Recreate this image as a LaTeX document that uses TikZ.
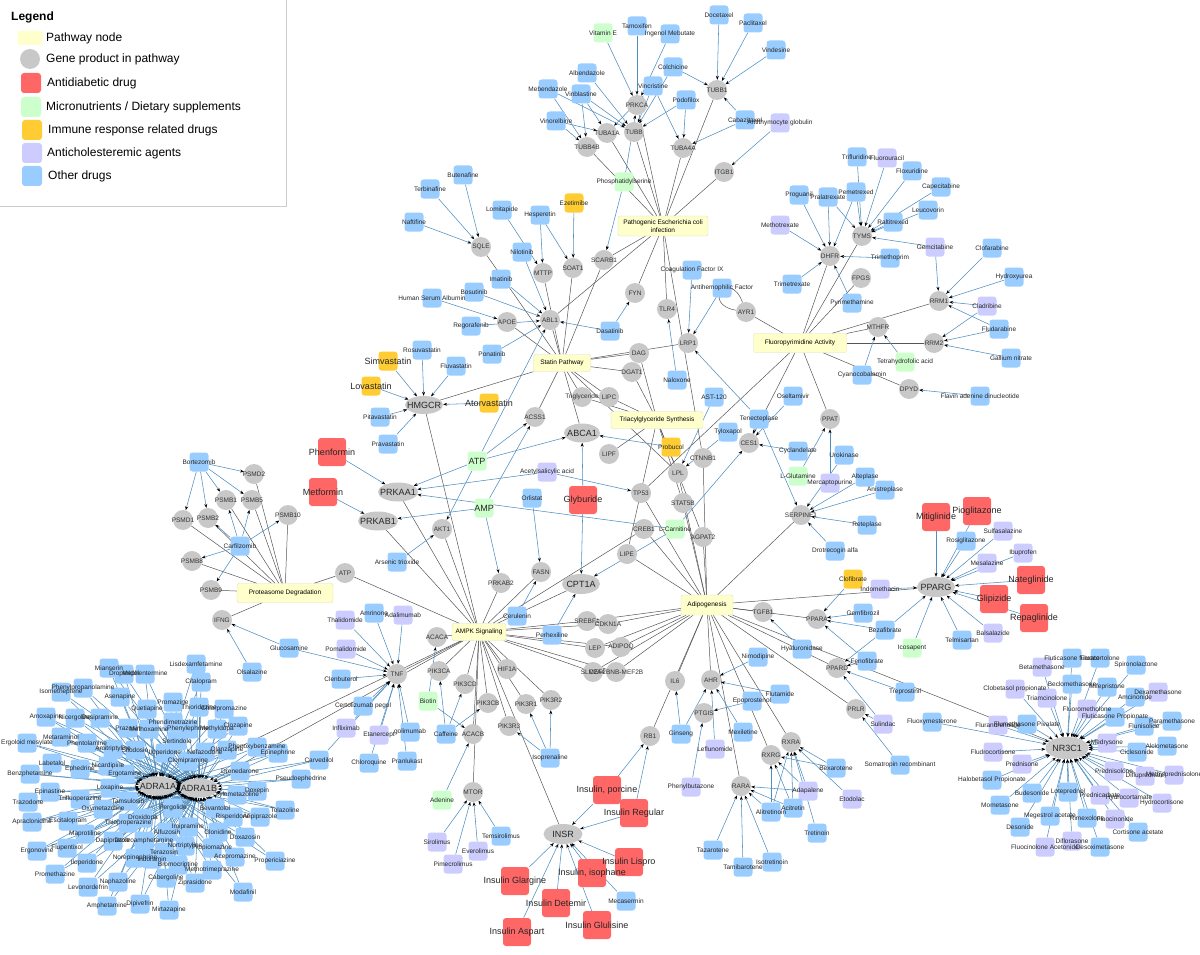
\documentclass[tikz,border=0pt]{standalone}
\usepackage{fontspec}
\setmainfont{Liberation Sans}
\usetikzlibrary{shapes.geometric,arrows.meta}
\pgfdeclarelayer{bg}\pgfdeclarelayer{fg}\pgfsetlayers{bg,main,fg}
\definecolor{cblue}{HTML}{99CCFF}
\definecolor{cgreen}{HTML}{CCFFCC}
\definecolor{cred}{HTML}{FF6666}
\definecolor{corange}{HTML}{FFCC33}
\definecolor{cpurple}{HTML}{CCCCFF}
\definecolor{cyellow}{HTML}{FFFFCC}
\definecolor{cgene}{HTML}{C8C8C8}
\definecolor{eblue}{HTML}{4F8FC0}
\definecolor{egray}{HTML}{555555}
\tikzset{
 gene/.style={circle,fill=cgene,inner sep=0,minimum size=20pt},
 gell/.style={ellipse,fill=cgene,inner sep=0},
 glab/.style={inner sep=0,font=\fontsize{6.5}{7}\selectfont,text=black!80},
 elab/.style={inner sep=0,font=\fontsize{9}{10}\selectfont,text=black!85},
 pway/.style={rectangle,rounded corners=2pt,fill=cyellow,draw=cyellow!75!gray,line width=0.4pt,font=\fontsize{6.5}{7.5}\selectfont,inner sep=0,align=center},
 dbox/.style={rectangle,rounded corners=3pt,minimum size=19pt,inner sep=0},
 dlab/.style={inner sep=0,text=black!85},
 dedge/.style={draw=eblue,line width=0.55pt,-{Stealth[length=4pt,width=3pt,color=black]}},
 pedge/.style={draw=egray,line width=0.5pt},
 legtxt/.style={anchor=west,font=\fontsize{12}{12}\selectfont,inner sep=0},
}
\makeatletter
\newcommand\myedges{}
\newcommand\mylabels{}
\newcommand\gen[3]{\node[gene] (#1) at (#2) {};\g@addto@macro\mylabels{\node[glab] at (#1) {#3};}}
\newcommand\gel[5]{\node[gell,minimum width=#4pt,minimum height=#5pt] (#1) at (#2) {};\g@addto@macro\mylabels{\node[elab] at (#1) {#3};}}
\newcommand\drgX[7]{%
 \node[dbox,fill=#3,minimum size=#6pt] (#1) at (#2) {};%
 \g@addto@macro\mylabels{\node[dlab,font=\fontsize{#7}{#7}\selectfont] at (#1) {#4};}%
 \foreach \tg in {#5}{\xdef\myedges{\unexpanded\expandafter{\myedges}\noexpand\draw[dedge] (#1) -- (\tg);}}}
\newcommand\pwl[2]{\foreach \tg in {#2}{\xdef\myedges{\unexpanded\expandafter{\myedges}\noexpand\draw[pedge] (#1) -- (\tg);}}}
\makeatother
\newcommand\drg[5]{\drgX{#1}{#2}{#3}{#4}{#5}{19}{6.5}}
\newcommand\drgB[5]{\drgX{#1}{#2}{#3}{#4}{#5}{28}{9}}
\newcommand\drgM[5]{\drgX{#1}{#2}{#3}{#4}{#5}{19}{9}}
\newcommand\adr[3]{\drg{#1}{#2}{cblue}{#3}{adra1a,adra1b}}
\newcommand\nrd[4]{\drg{#1}{#2}{#3}{#4}{nr3c1}}
\begin{document}
\begin{tikzpicture}[x=1pt,y=-1pt]
\useasboundingbox (0,0) rectangle (1200,955);
% ---------------- Legend
\draw[draw=black!20,fill=white] (-2,-2) rectangle (286,206);
\node[anchor=west,inner sep=0,font=\bfseries\fontsize{12}{12}\selectfont] (legt) at (11,17) {Legend};
\node[fill=cyellow,rounded corners=2pt,minimum width=25pt,minimum height=14pt,inner sep=0] (lg1) at (30,38) {};
\node[circle,fill=cgene,minimum size=20pt,inner sep=0] (lg2) at (30,59) {};
\node[dbox,fill=cred,minimum size=20pt] (lg3) at (31,83) {};
\node[dbox,fill=cgreen,minimum size=20pt] (lg4) at (31,107) {};
\node[dbox,fill=corange,minimum size=20pt] (lg5) at (32,130) {};
\node[dbox,fill=cpurple,minimum size=20pt] (lg6) at (32,153) {};
\node[dbox,fill=cblue,minimum size=20pt] (lg7) at (32,176) {};
\node[legtxt] (lt1) at (46,38) {Pathway node};
\node[legtxt] (lt2) at (46,59) {Gene product in pathway};
\node[legtxt] (lt3) at (47,83) {Antidiabetic drug};
\node[legtxt] (lt4) at (46,107) {Micronutrients / Dietary supplements};
\node[legtxt] (lt5) at (48,130) {Immune response related drugs};
\node[legtxt] (lt6) at (47,153) {Anticholesteremic agents};
\node[legtxt] (lt7) at (48,176) {Other drugs};
% ---------------- Pathways
\node[pway,minimum width=90pt,minimum height=20pt] (pec) at (663,226) {Pathogenic Escherichia coli\\infection};
\node[pway,minimum width=57pt,minimum height=17pt] (stat) at (562,363) {Statin Pathway};
\node[pway,minimum width=92pt,minimum height=17pt] (tag) at (657,420) {Triacylglyceride Synthesis};
\node[pway,minimum width=93pt,minimum height=19pt] (fpa) at (800,343) {Fluoropyrimidine Activity};
\node[pway,minimum width=52pt,minimum height=20pt] (adi) at (707,605) {Adipogenesis};
\node[pway,minimum width=54pt,minimum height=17pt] (ampk) at (479,632) {AMPK Signaling};
\node[pway,minimum width=96pt,minimum height=19pt] (prot) at (285,593) {Proteasome Degradation};
% ---------------- Genes
\gen{tubb4b}{587,147}{TUBB4B}
\gen{tuba1a}{607,133}{TUBA1A}
\gen{tubb}{634,132}{TUBB}
\gen{prkca}{637,105}{PRKCA}
\gen{tuba4a}{683,148}{TUBA4A}
\gen{tubb1}{717,90}{TUBB1}
\gen{itgb1}{724,172}{ITGB1}
\gen{sqle}{481,247}{SQLE}
\gen{mttp}{543,273}{MTTP}
\gen{soat1}{573,268}{SOAT1}
\gen{scarb1}{604,260}{SCARB1}
\gen{abl1}{550,320}{ABL1}
\gen{apoe}{507,322}{APOE}
\gen{fyn}{635,293}{FYN}
\gen{tlr4}{667,309}{TLR4}
\gen{ayr1}{746,312}{AYR1}
\gen{lrp1}{688,343}{LRP1}
\gen{dag}{639,353}{DAG}
\gen{dgat1}{632,372}{DGAT1}
\gen{trig}{582,397}{Triglyceride}
\gen{lipc}{609,397}{LIPC}
\gen{acss1}{535,417}{ACSS1}
\gen{lipf}{609,454}{LIPF}
\gen{ctnnb1}{703,458}{CTNNB1}
\gen{lpl}{678,473}{LPL}
\gen{tp53}{641,493}{TP53}
\gen{stat5b}{683,503}{STAT5B}
\gen{creb1}{644,529}{CREB1}
\gen{agpat2}{703,537}{AGPAT2}
\gen{lipe}{627,554}{LIPE}
\gen{ces1}{749,443}{CES1}
\gen{ppat}{830,419}{PPAT}
\gen{serpine1}{801,515}{SERPINE1}
\gen{dhfr}{830,256}{DHFR}
\gen{tyms}{862,236}{TYMS}
\gen{fpgs}{861,278}{FPGS}
\gen{mthfr}{878,327}{MTHFR}
\gen{rrm1}{939,301}{RRM1}
\gen{rrm2}{934,343}{RRM2}
\gen{dpyd}{909,389}{DPYD}
\gen{psmd2}{254,474}{PSMD2}
\gen{psmb1}{226,500}{PSMB1}
\gen{psmb5}{252,500}{PSMB5}
\gen{psmd1}{183,520}{PSMD1}
\gen{psmb2}{208,518}{PSMB2}
\gen{psmb10}{288,515}{PSMB10}
\gen{psmb8}{192,561}{PSMB8}
\gen{psmb9}{211,590}{PSMB9}
\gen{ifng}{222,620}{IFNG}
\gen{atpg}{345,573}{ATP}
\gen{akt1}{442,529}{AKT1}
\gen{fasn}{541,572}{FASN}
\gen{prkab2}{501,583}{PRKAB2}
\gen{srebf1}{587,621}{SREBF1}
\gen{acaca}{437,637}{ACACA}
\gen{tnf}{397,674}{TNF}
\gen{pik3ca}{439,671}{PIK3CA}
\gen{hif1a}{507,669}{HIF1A}
\gen{lep}{595,648}{LEP}
\gen{slc2a4}{593,672}{SLC2A4}
\gen{pik3cd}{465,684}{PIK3CD}
\gen{pik3cb}{488,703}{PIK3CB}
\gen{pik3r1}{526,704}{PIK3R1}
\gen{pik3r2}{551,700}{PIK3R2}
\gen{acacb}{473,734}{ACACB}
\gen{pik3r3}{509,726}{PIK3R3}
\gen{mtor}{473,792}{MTOR}
\gen{cdkn1a}{608,624}{CDKN1A}
\gen{adipoq}{621,647}{ADIPOQ}
\gen{mef2b}{616,672}{MEF2BNB-MEF2B}
\gen{tgfb1}{763,612}{TGFB1}
\gen{ppara}{817,619}{PPARA}
\gen{il6}{675,681}{IL6}
\gen{ahr}{711,680}{AHR}
\gen{ppard}{837,668}{PPARD}
\gen{ptgis}{704,713}{PTGIS}
\gen{prlr}{856,709}{PRLR}
\gen{rb1}{650,736}{RB1}
\gen{rxra}{791,742}{RXRA}
\gen{rxrg}{771,755}{RXRG}
\gen{rara}{741,786}{RARA}
\gel{hmgcr}{424,405}{HMGCR}{38}{18}
\gel{abca1}{582,433}{ABCA1}{36}{19}
\gel{prkaa1}{398,492}{PRKAA1}{40}{19}
\gel{prkab1}{378,521}{PRKAB1}{40}{19}
\gel{cpt1a}{581,584}{CPT1A}{38}{20}
\gel{insr}{563,834}{INSR}{39}{20}
\gel{pparg}{936,587}{PPARG}{38}{20}
\gel{nr3c1}{1067,748}{NR3C1}{43}{22}
\gel{adra1a}{158,786}{ADRA1A}{38}{19}
\gel{adra1b}{199,788}{ADRA1B}{38}{19}
% ---------------- Pathway links
\pwl{pec}{tubb4b,tuba1a,tubb,prkca,tuba4a,tubb1,itgb1,scarb1,fyn,tlr4,abl1,ctnnb1}
\pwl{stat}{hmgcr,apoe,abl1,mttp,soat1,scarb1,sqle,acss1,abca1,trig,lipc,dag,lrp1,lpl,dgat1}
\pwl{tag}{dag,dgat1,lipc,trig,lipf,lpl,agpat2,lipe,stat5b}
\pwl{fpa}{dhfr,tyms,fpgs,mthfr,rrm1,rrm2,dpyd,ppat,ces1,tp53,ayr1}
\pwl{adi}{ctnnb1,lpl,stat5b,agpat2,creb1,lipe,serpine1,tgfb1,ppara,pparg,ppard,prlr,rxra,rxrg,rara,ahr,il6,rb1,cdkn1a,srebf1,lep,adipoq,mef2b,slc2a4,nr3c1,tp53}
\pwl{ampk}{prkaa1,prkab1,prkab2,akt1,hmgcr,acaca,acacb,pik3ca,pik3cd,pik3cb,pik3r1,pik3r2,pik3r3,hif1a,mtor,tnf,fasn,cpt1a,srebf1,lep,adipoq,slc2a4,mef2b,cdkn1a,atpg,insr,adra1a,adra1b,creb1}
\pwl{prot}{psmd2,psmb1,psmb5,psmd1,psmb2,psmb10,psmb8,psmb9,atpg,ifng}
% ---------------- Drugs: top
\drg{vite}{603,33}{cgreen}{Vitamin E}{prkca}
\drg{tamox}{637,26}{cblue}{Tamoxifen}{prkca}
\drg{ingen}{670,34}{cblue}{Ingenol Mebutate}{prkca}
\drg{docet}{719,15}{cblue}{Docetaxel}{tubb1}
\drg{pacli}{753,23}{cblue}{Paclitaxel}{tubb1}
\drg{vindes}{776,50}{cblue}{Vindesine}{tubb1}
\drg{colch}{673,67}{cblue}{Colchicine}{tubb,tubb1}
\drg{vincr}{653,86}{cblue}{Vincristine}{tubb,tuba4a,tuba1a}
\drg{podof}{686,100}{cblue}{Podofilox}{tubb,tuba4a}
\drg{albend}{587,73}{cblue}{Albendazole}{tubb}
\drg{mebend}{548,89}{cblue}{Mebendazole}{tubb4b,tubb}
\drg{vinbl}{581,94}{cblue}{Vinblastine}{tubb4b,tuba1a,tubb}
\drg{vinor}{556,121}{cblue}{Vinorelbine}{tuba1a,tubb4b}
\drg{cabaz}{745,120}{cblue}{Cabazitaxel}{tubb1,tuba4a}
\drg{atg}{780,123}{cpurple}{Antithymocyte globulin}{itgb1}
\drg{phser}{624,182}{cgreen}{Phosphatidylserine}{prkca,scarb1}
\drg{buten}{463,175}{cblue}{Butenafine}{sqle}
\drg{terb}{430,189}{cblue}{Terbinafine}{sqle}
\drg{naft}{414,222}{cblue}{Naftifine}{sqle}
\drg{lomit}{502,210}{cblue}{Lomitapide}{mttp}
\drg{hesp}{540,215}{cblue}{Hesperetin}{mttp,soat1}
\drg{ezet}{574,203}{corange}{Ezetimibe}{soat1}
\drg{nilo}{522,252}{cblue}{Nilotinib}{abl1}
\drg{imat}{501,279}{cblue}{Imatinib}{abl1}
\drg{bosu}{474,292}{cblue}{Bosutinib}{abl1}
\drg{hsa}{432,298}{cblue}{Human Serum Albumin}{apoe}
\drg{regor}{471,326}{cblue}{Regorafenib}{abl1}
\drg{pona}{492,354}{cblue}{Ponatinib}{abl1}
\drg{dasa}{610,331}{cblue}{Dasatinib}{abl1,fyn}
\drg{cf9}{692,270}{cblue}{Coagulation Factor IX}{lrp1}
\drg{ahf}{722,288}{cblue}{Antihemophilic Factor}{lrp1}
% fluoropyrimidine
\drg{trifl}{857,157}{cblue}{Trifluridine}{tyms}
\drg{fu}{887,158}{cpurple}{Fluorouracil}{tyms}
\drg{floxu}{912,171}{cblue}{Floxuridine}{tyms}
\drg{capec}{941,187}{cblue}{Capecitabine}{tyms}
\drg{leuco}{928,210}{cblue}{Leucovorin}{tyms}
\drg{progu}{799,195}{cblue}{Proguanil}{dhfr}
\drg{pralat}{828,197}{cblue}{Pralatrexate}{dhfr,tyms}
\drg{pemet}{856,192}{cblue}{Pemetrexed}{tyms,dhfr}
\drg{mtx}{780,225}{cpurple}{Methotrexate}{dhfr}
\drg{raltit}{893,222}{cblue}{Raltitrexed}{tyms}
\drg{trimp}{890,258}{cblue}{Trimethoprim}{dhfr}
\drg{trimx}{792,284}{cblue}{Trimetrexate}{dhfr}
\drg{pyrim}{852,303}{cblue}{Pyrimethamine}{dhfr}
\drg{gemc}{935,247}{cpurple}{Gemcitabine}{rrm1,tyms}
\drg{clofa}{992,248}{cblue}{Clofarabine}{rrm1}
\drg{hydrox}{1014,277}{cblue}{Hydroxyurea}{rrm1}
\drg{cladr}{987,306}{cpurple}{Cladribine}{rrm1,rrm2}
\drg{fluda}{999,329}{cblue}{Fludarabine}{rrm1,rrm2}
\drg{gall}{1011,358}{cblue}{Gallium nitrate}{rrm2}
\drg{fad}{980,396}{cblue}{Flavin adenine dinucleotide}{dpyd}
\drg{cyano}{862,375}{cblue}{Cyanocobalamin}{mthfr}
\drg{thf}{905,362}{cgreen}{Tetrahydrofolic acid}{mthfr}
% statins / AMPK
\drg{rosuv}{422,350}{cblue}{Rosuvastatin}{hmgcr}
\drgM{simv}{388,361}{corange}{Simvastatin}{hmgcr}
\drg{fluv}{456,366}{cblue}{Fluvastatin}{hmgcr}
\drgM{lov}{371,386}{corange}{Lovastatin}{hmgcr}
\drg{pitav}{380,417}{cblue}{Pitavastatin}{hmgcr}
\drg{prav}{388,444}{cblue}{Pravastatin}{hmgcr}
\drgM{atorv}{489,403}{corange}{Atorvastatin}{hmgcr}
\drgB{phenf}{332,452}{cred}{Phenformin}{prkaa1}
\drgB{metf}{323,492}{cred}{Metformin}{prkab1}
\drgM{atp}{477,461}{cgreen}{ATP}{prkaa1,acss1,abca1,abl1,akt1}
\drgM{amp}{484,508}{cgreen}{AMP}{prkab1,acss1,prkab2}
\drg{asa}{547,472}{cpurple}{Acetylsalicylic acid}{prkaa1,tp53}
\drg{orlis}{532,498}{cblue}{Orlistat}{fasn}
\drgB{glyb}{583,500}{cred}{Glyburide}{abca1,cpt1a}
\drg{arsen}{397,562}{cblue}{Arsenic trioxide}{akt1}
\drg{ceru}{517,616}{cblue}{Cerulenin}{fasn}
\drg{perhex}{552,635}{cblue}{Perhexiline}{cpt1a}
\drg{bort}{199,462}{cblue}{Bortezomib}{psmd2,psmb1,psmb5,psmd1,psmb2}
\drg{carf}{240,546}{cblue}{Carfilzomib}{psmb1,psmb5,psmb2,psmb10,psmb8,psmb9}
\drg{glucos}{289,648}{cblue}{Glucosamine}{ifng,tnf}
\drg{olsal}{252,672}{cblue}{Olsalazine}{ifng}
% middle right
\drg{nalox}{677,380}{cblue}{Naloxone}{tlr4}
\drg{ast}{714,397}{cblue}{AST-120}{lpl}
\drg{oselt}{793,396}{cblue}{Oseltamivir}{ces1}
\drg{tenec}{759,419}{cblue}{Tenecteplase}{lrp1,serpine1,ces1}
\drg{tylox}{728,432}{cblue}{Tyloxapol}{lpl}
\drg{probuc}{671,447}{corange}{Probucol}{abca1}
\drg{cyclan}{798,451}{cblue}{Cyclandelate}{ces1}
\drg{urok}{844,455}{cblue}{Urokinase}{serpine1}
\drg{lglut}{798,476}{cgreen}{L-Glutamine}{ppat}
\drg{mercap}{830,483}{cpurple}{Mercaptopurine}{ppat}
\drg{altep}{865,477}{cblue}{Alteplase}{serpine1}
\drg{anist}{885,490}{cblue}{Anistreplase}{serpine1}
\drg{retep}{867,525}{cblue}{Reteplase}{serpine1}
\drg{lcarn}{675,529}{cgreen}{L-Carnitine}{ces1,cpt1a,prkaa1}
\drg{drot}{835,551}{cblue}{Drotrecogin alfa}{serpine1}
\drg{clofib}{853,579}{corange}{Clofibrate}{ppara}
\drg{indom}{880,589}{cpurple}{Indomethacin}{pparg}
\drg{gemfib}{863,613}{cblue}{Gemfibrozil}{ppara}
\drg{bezaf}{885,630}{cblue}{Bezafibrate}{ppara,pparg,ppard}
\drg{hyal}{802,649}{cblue}{Hyaluronidase}{tgfb1}
\drg{fenof}{867,661}{cblue}{Fenofibrate}{ppara,ppard}
\drg{icos}{912,648}{cgreen}{Icosapent}{pparg}
\drg{trepr}{905,692}{cblue}{Treprostinil}{ppard}
\drg{sulind}{883,724}{cpurple}{Sulindac}{ppard,prlr}
\drg{fluoxy}{932,722}{cblue}{Fluoxymesterone}{nr3c1}
\drg{somat}{900,765}{cblue}{Somatropin recombinant}{prlr}
% PPARG
\drgB{mitig}{936,517}{cred}{Mitiglinide}{pparg}
\drgB{piog}{977,511}{cred}{Pioglitazone}{pparg}
\drg{sulfas}{1003,531}{cpurple}{Sulfasalazine}{pparg}
\drg{rosig}{966,541}{cblue}{Rosiglitazone}{pparg}
\drg{ibup}{1023,553}{cpurple}{Ibuprofen}{pparg}
\drg{mesal}{987,563}{cpurple}{Mesalazine}{pparg}
\drgB{nateg}{1031,580}{cred}{Nateglinide}{pparg}
\drgB{glipiz}{994,599}{cred}{Glipizide}{pparg}
\drgB{repag}{1034,618}{cred}{Repaglinide}{pparg}
\drg{balsal}{993,633}{cpurple}{Balsalazide}{pparg}
\drg{telmi}{962,640}{cblue}{Telmisartan}{pparg}
% TNF / PI3K / MTOR
\drg{thal}{345,620}{cpurple}{Thalidomide}{tnf}
\drg{amrin}{374,613}{cblue}{Amrinone}{tnf}
\drg{adal}{403,615}{cpurple}{Adalimumab}{tnf}
\drg{pomal}{346,649}{cpurple}{Pomalidomide}{tnf}
\drg{clenb}{341,679}{cblue}{Clenbuterol}{tnf}
\drg{certo}{363,706}{cblue}{Certolizumab pegol}{tnf}
\drg{inflix}{346,728}{cpurple}{Infliximab}{tnf}
\drg{etan}{379,735}{cpurple}{Etanercept}{tnf}
\drg{golim}{410,732}{cblue}{golimumab}{tnf}
\drg{chloroq}{369,763}{cblue}{Chloroquine}{tnf}
\drg{pranl}{407,761}{cblue}{Pranlukast}{tnf}
\drg{carv}{319,760}{cblue}{Carvedilol}{tnf,adra1a,adra1b}
\drg{biotin}{428,701}{cgreen}{Biotin}{acaca,acacb}
\drg{caff}{446,734}{cblue}{Caffeine}{pik3ca,pik3cd,pik3cb}
\drg{adenine}{442,800}{cgreen}{Adenine}{acacb}
\drg{isopr}{550,758}{cblue}{Isoprenaline}{pik3r1,pik3r2,pik3r3}
\drg{temsir}{501,836}{cblue}{Temsirolimus}{mtor}
\drg{sirol}{437,842}{cpurple}{Sirolimus}{mtor}
\drg{everol}{478,851}{cpurple}{Everolimus}{mtor}
\drg{pimec}{453,864}{cpurple}{Pimecrolimus}{mtor}
% insulins
\drgB{insglar}{515,881}{cred}{Insulin Glargine}{insr}
\drgB{insdet}{556,903}{cred}{Insulin Detemir}{insr}
\drgB{insasp}{517,932}{cred}{Insulin Aspart}{insr}
\drgB{insiso}{592,873}{cred}{Insulin, isophane}{insr}
\drgB{insglu}{597,925}{cred}{Insulin Glulisine}{insr}
\drgB{inslis}{629,862}{cred}{Insulin Lispro}{insr}
\drgB{insreg}{634,813}{cred}{Insulin Regular}{insr,rb1}
\drgB{inspor}{607,790}{cred}{Insulin, porcine}{insr,rb1}
\drg{mecas}{626,901}{cblue}{Mecasermin}{insr}
% AHR / retinoids
\drg{nimod}{758,657}{cblue}{Nimodipine}{ahr}
\drg{flutam}{780,694}{cblue}{Flutamide}{ahr}
\drg{epopr}{752,701}{cblue}{Epoprostenol}{ptgis}
\drg{ginseng}{681,734}{cblue}{Ginseng}{ahr,il6}
\drg{mexil}{743,732}{cblue}{Mexiletine}{ahr}
\drg{leflu}{715,749}{cpurple}{Leflunomide}{ahr}
\drg{phenylb}{691,787}{cpurple}{Phenylbutazone}{ptgis}
\drg{bexar}{836,768}{cblue}{Bexarotene}{rxra,rxrg}
\drg{adapal}{808,791}{cpurple}{Adapalene}{rara,rxra,rxrg}
\drg{etodol}{852,799}{cpurple}{Etodolac}{rxra}
\drg{alitr}{771,812}{cblue}{Alitretinoin}{rxra,rxrg,rara}
\drg{acitr}{793,808}{cblue}{Acitretin}{rxra,rxrg,rara}
\drg{tretin}{817,833}{cblue}{Tretinoin}{rxra}
\drg{tazar}{713,850}{cblue}{Tazarotene}{rara}
\drg{isotr}{772,862}{cblue}{Isotretinoin}{rara}
\drg{tamib}{743,867}{cblue}{Tamibarotene}{rara}
% NR3C1
\nrd{n1}{1072,658}{cblue}{Fluticasone furoate}
\nrd{n2}{1100,658}{cblue}{Fluocortolone}
\nrd{n3}{1042,667}{cpurple}{Betamethasone}
\nrd{n4}{1136,665}{cblue}{Spironolactone}
\nrd{n5}{1072,684}{cblue}{Beclomethasone}
\nrd{n6}{1107,687}{cblue}{Mifepristone}
\nrd{n7}{1158,692}{cpurple}{Dexamethasone}
\nrd{n8}{1015,689}{cpurple}{Clobetasol propionate}
\nrd{n9}{1135,697}{cblue}{Amcinonide}
\nrd{n10}{1047,698}{cpurple}{Triamcinolone}
\nrd{n11}{1087,709}{cpurple}{Fluorometholone}
\nrd{n12}{1115,717}{cblue}{Fluticasone Propionate}
\nrd{n13}{1172,721}{cblue}{Paramethasone}
\nrd{n14}{1144,726}{cblue}{Flunisolide}
\nrd{n15}{998,725}{cpurple}{Flurandrenolide}
\nrd{n16}{1027,724}{cblue}{Flumethasone Pivalate}
\nrd{n17}{1107,743}{cpurple}{Medrysone}
\nrd{n18}{1167,746}{cblue}{Alclometasone}
\nrd{n19}{993,752}{cpurple}{Fludrocortisone}
\nrd{n20}{1137,752}{cblue}{Ciclesonide}
\nrd{n21}{1022,764}{cpurple}{Prednisone}
\nrd{n22}{1114,771}{cpurple}{Prednisolone}
\nrd{n23}{1145,776}{cpurple}{Difluprednate}
\nrd{n24}{1174,775}{cpurple}{Methylprednisolone}
\nrd{n25}{992,780}{cblue}{Halobetasol Propionate}
\nrd{n26}{1032,793}{cblue}{Budesonide}
\nrd{n27}{1068,792}{cblue}{Loteprednol}
\nrd{n28}{1100,795}{cpurple}{Prednicarbate}
\nrd{n29}{1129,798}{cpurple}{Hydrocortamate}
\nrd{n30}{1162,803}{cpurple}{Hydrocortisone}
\nrd{n31}{1000,805}{cblue}{Mometasone}
\nrd{n32}{1050,816}{cblue}{Megestrol acetate}
\nrd{n33}{1087,818}{cblue}{Rimexolone}
\nrd{n34}{1115,819}{cpurple}{Fluocinonide}
\nrd{n35}{1020,827}{cblue}{Desonide}
\nrd{n36}{1138,832}{cblue}{Cortisone acetate}
\nrd{n37}{1045,847}{cpurple}{Fluocinolone Acetonide}
\nrd{n38}{1072,841}{cpurple}{Diflorasone}
\nrd{n39}{1100,847}{cblue}{Desoximetasone}
% ADRA1A / ADRA1B
\adr{a1}{109,668}{Mianserin}
\adr{a2}{124,674}{Droperidol}
\adr{a3}{145,674}{Mephentermine}
\adr{a4}{196,664}{Lisdexamfetamine}
\adr{a5}{201,682}{Citalopram}
\adr{a6}{83,688}{Phenylpropanolamine}
\adr{a7}{61,692}{Isometheptene}
\adr{a8}{120,697}{Asenapine}
\adr{a9}{147,709}{Quetiapine}
\adr{a10}{173,702}{Promazine}
\adr{a11}{199,707}{Thioridazine}
\adr{a12}{224,709}{Chlorpromazine}
\adr{a13}{46,717}{Amoxapine}
\adr{a14}{75,718}{Nicergoline}
\adr{a15}{100,718}{Desipramine}
\adr{a16}{128,728}{Prazosin}
\adr{a17}{149,729}{Methoxamine}
\adr{a18}{173,722}{Phendimetrazine}
\adr{a19}{188,729}{Phenylephrine}
\adr{a20}{217,729}{Methyldopa}
\adr{a21}{238,726}{Clozapine}
\adr{a22}{61,737}{Metaraminol}
\adr{a23}{27,743}{Ergoloid mesylate}
\adr{a24}{87,743}{Phentolamine}
\adr{a25}{113,749}{Amitriptyline}
\adr{a26}{135,750}{Silodosin}
\adr{a27}{177,741}{Sertindole}
\adr{a28}{165,753}{Iloperidone}
\adr{a29}{205,752}{Nefazodone}
\adr{a30}{227,750}{Olanzapine}
\adr{a31}{257,747}{Phenoxybenzamine}
\adr{a32}{278,753}{Epinephrine}
\adr{a33}{52,763}{Labetalol}
\adr{a34}{108,766}{Nicardipine}
\adr{a35}{188,761}{Clomipramine}
\adr{a36}{80,769}{Ephedrine}
\adr{a37}{240,771}{Dronedarone}
\adr{a38}{30,774}{Benzphetamine}
\adr{a39}{125,774}{Ergotamine}
\adr{a40}{301,779}{Pseudoephedrine}
\adr{a41}{110,788}{Loxapine}
\adr{a42}{257,791}{Doxepin}
\adr{a43}{50,792}{Epinastine}
\adr{a44}{237,795}{Xylometazoline}
\adr{a45}{80,799}{Trifluoperazine}
\adr{a46}{128,801}{Tamsulosin}
\adr{a47}{28,802}{Trazodone}
\adr{a48}{103,809}{Oxymetazoline}
\adr{a49}{173,808}{Pergolide}
\adr{a50}{215,808}{Bevantolol}
\adr{a51}{285,810}{Tolazoline}
\adr{a52}{260,817}{Aripiprazole}
\adr{a53}{233,817}{Risperidone}
\adr{a54}{143,818}{Droxidopa}
\adr{a55}{68,821}{Escitalopram}
\adr{a56}{32,822}{Apraclonidine}
\adr{a57}{128,823}{Thioproperazine}
\adr{a58}{188,827}{Imipramine}
\adr{a59}{85,834}{Maprotiline}
\adr{a60}{167,832}{Alfuzosin}
\adr{a61}{218,832}{Clonidine}
\adr{a62}{245,837}{Doxazosin}
\adr{a63}{113,841}{Dapiprazole}
\adr{a64}{144,841}{Dextroamphetamine}
\adr{a65}{67,848}{Flupentixol}
\adr{a66}{212,848}{Propiomazine}
\adr{a67}{37,851}{Ergonovine}
\adr{a68}{185,846}{Nortriptyline}
\adr{a69}{164,852}{Terazosin}
\adr{a70}{235,857}{Acepromazine}
\adr{a71}{135,858}{Norepinephrine}
\adr{a72}{152,859}{Indoramin}
\adr{a73}{275,861}{Propericiazine}
\adr{a74}{87,863}{Iloperidone}
\adr{a75}{178,865}{Bromocriptine}
\adr{a76}{212,870}{Methotrimeprazine}
\adr{a77}{55,874}{Promethazine}
\adr{a78}{166,878}{Cabergoline}
\adr{a79}{118,882}{Naphazoline}
\adr{a80}{195,883}{Ziprasidone}
\adr{a81}{88,887}{Levonordefrin}
\adr{a82}{243,892}{Modafinil}
\adr{a83}{107,906}{Amphetamine}
\adr{a84}{140,904}{Dipivefrin}
\adr{a85}{169,910}{Mirtazapine}
% ---------------- edges and labels, each layer entered once
\begin{pgfonlayer}{bg}
\myedges
\draw[pedge] (ayr1) to[out=110,in=170,looseness=9] (ayr1);
\end{pgfonlayer}
\begin{pgfonlayer}{fg}
\mylabels
\end{pgfonlayer}
\end{tikzpicture}
\end{document}
